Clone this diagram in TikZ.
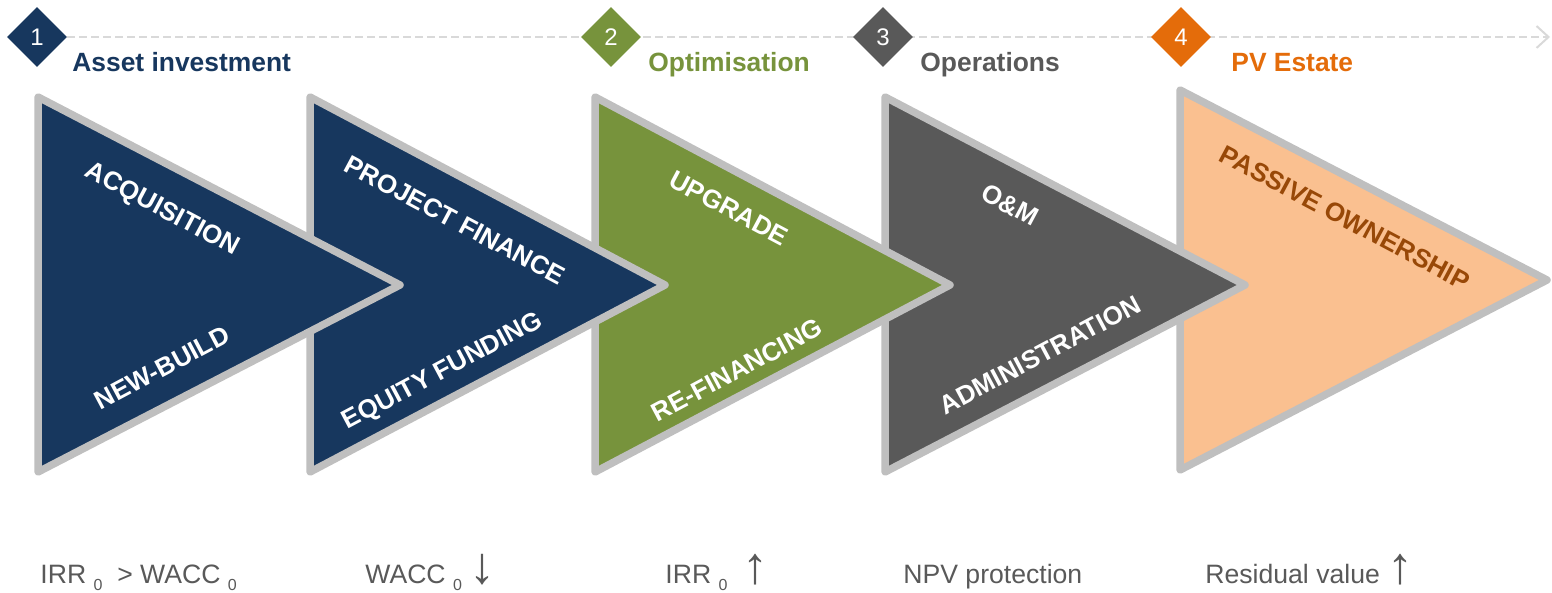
\documentclass[tikz,border=0pt]{standalone}
\usepackage{fontspec}
\setmainfont{Liberation Sans}
\usetikzlibrary{shapes.geometric,arrows.meta}

\definecolor{navy}{HTML}{17375E}
\definecolor{olive}{HTML}{77933C}
\definecolor{slate}{HTML}{595959}
\definecolor{peach}{HTML}{FAC090}
\definecolor{tangerine}{HTML}{E46C0A}
\definecolor{rust}{HTML}{984807}
\definecolor{rimgrey}{HTML}{BFBFBF}
\definecolor{dashgrey}{HTML}{D9D9D9}

\newcommand{\lowzero}{\raisebox{-0.5ex}{\fontsize{8}{8}\selectfont 0}}
\newcommand{\bigarrow}[1]{{\fontsize{26}{26}\selectfont #1}}

\begin{document}
\begin{tikzpicture}[x=0.5pt,y=-0.5pt,
  stage/.style={draw=rimgrey, line width=3.75pt, line join=round, fill=#1},
  num/.style={diamond, fill=#1, text=white, minimum width=30pt, minimum height=30pt, inner sep=0pt, font=\fontsize{12}{12}\selectfont},
  title/.style={anchor=base west, inner sep=0pt, text=#1, font=\bfseries\fontsize{13.2}{13.2}\selectfont},
  lbl/.style={text=white, inner sep=0pt, font=\bfseries\fontsize{13}{13}\selectfont},
  note/.style={anchor=base west, inner sep=0pt, text=slate, font=\fontsize{13.3}{13.3}\selectfont}]

\useasboundingbox (0,0) rectangle (1552,593);

% time line
\node [num=navy] (N1) at (37,37) {1};
\coordinate (end) at (1550,37);
\draw [dashgrey, line width=1pt, dash pattern=on 4pt off 2pt, -{Straight Barb[length=6pt,width=11pt]}] (N1) -- (end);
\node [num=olive] (N2) at (611,37) {2};
\node [num=slate] (N3) at (883,37) {3};
\node [num=tangerine] (N4) at (1181,37) {4};

\node [title=navy] (T1) at (72,72) {Asset investment};
\node [title=olive] (T2) at (648,72) {Optimisation};
\node [title=slate] (T3) at (920,72) {Operations};
\node [title=tangerine] (T4) at (1231,72) {PV Estate};

% stages, last one first so the tips lie on top
\draw [stage=peach] (1180,90) -- (1547,280) -- (1180,470) -- cycle;
\draw [stage=slate] (885,97) -- (1245,285) -- (885,472) -- cycle;
\draw [stage=olive] (595,97) -- (950,285) -- (595,472) -- cycle;
\draw [stage=navy] (310,97) -- (665,285) -- (310,472) -- cycle;
\draw [stage=navy] (38,97) -- (400,285) -- (38,472) -- cycle;

\node [lbl, rotate=-28] (acq) at (162,210) {ACQUISITION};
\node [lbl, rotate=28] (new) at (162,368) {NEW-BUILD};
\node [lbl, rotate=-28] (pf) at (455,220) {PROJECT FINANCE};
\node [lbl, rotate=28] (eq) at (443,372) {EQUITY FUNDING};
\node [lbl, rotate=-28] (upg) at (729,208) {UPGRADE};
\node [lbl, rotate=28] (ref) at (737,370) {RE-FINANCING};
\node [lbl, rotate=-28] (om) at (1010,205) {O\&M};
\node [lbl, rotate=28] (adm) at (1040,355) {ADMINISTRATION};
\node [lbl, rotate=-28, text=rust] (pas) at (1345,218) {PASSIVE OWNERSHIP};

% value drivers
\node [note] (v1) at (40,583) {IRR \lowzero\ \ > WACC \lowzero};
\node [note] (v2) at (365,583) {WACC \lowzero\ \bigarrow{↓}};
\node [note] (v3) at (665,583) {IRR \lowzero\ \ \bigarrow{↑}};
\node [note] (v4) at (903,583) {NPV protection};
\node [note] (v5) at (1205,583) {Residual value \bigarrow{↑}};

\end{tikzpicture}
\end{document}
